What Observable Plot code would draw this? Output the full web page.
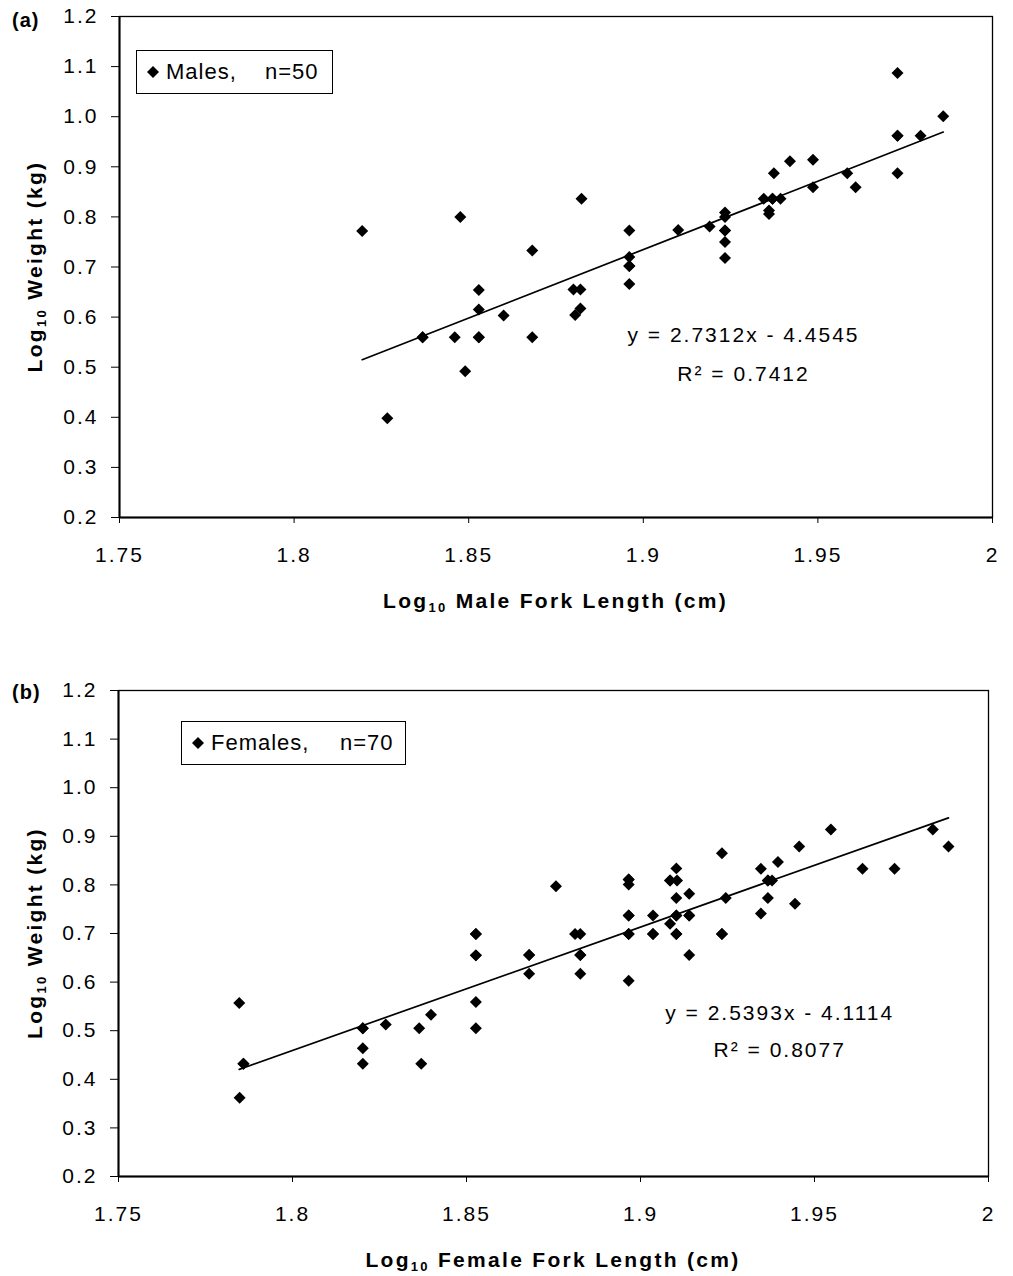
<!DOCTYPE html>
<html><head><meta charset="utf-8">
<script src="https://cdn.jsdelivr.net/npm/d3@7"></script>
<script src="https://cdn.jsdelivr.net/npm/@observablehq/plot@0.6"></script>
<style>
body{margin:0;background:#fff;font-family:"Liberation Sans",Arial,sans-serif;}
.panel{position:relative;width:1013px;}
.legend{position:absolute;box-sizing:border-box;border:1.5px solid #000;background:#fff;display:flex;align-items:center;padding-left:10px;font-size:22px;letter-spacing:1px;color:#000;white-space:pre;}
.legend svg{display:block;margin-right:7px;}
</style></head><body><div id="root"></div>
<script>
// ---------- data ----------
const xTicks = [1.75, 1.8, 1.85, 1.9, 1.95, 2];
const xTickLabels = ["1.75", "1.8", "1.85", "1.9", "1.95", "2"];
const yTicks = [0.2, 0.3, 0.4, 0.5, 0.6, 0.7, 0.8, 0.9, 1.0, 1.1, 1.2];
const yTickLabels = ["0.2", "0.3", "0.4", "0.5", "0.6", "0.7", "0.8", "0.9", "1.0", "1.1", "1.2"];

const maleLength = [1.8195, 1.8267, 1.8368, 1.8368, 1.8460, 1.8476, 1.8490, 1.8529, 1.8529, 1.8529,
  1.8529, 1.8600, 1.8682, 1.8682, 1.8800, 1.8820, 1.8805, 1.8820, 1.8823, 1.8960,
  1.8960, 1.8960, 1.8960, 1.8960, 1.9100, 1.9190, 1.9234, 1.9234, 1.9234, 1.9234,
  1.9234, 1.9234, 1.9345, 1.9370, 1.9370, 1.9393, 1.9360, 1.9360, 1.9374, 1.9420,
  1.9486, 1.9486, 1.9584, 1.9608, 1.9728, 1.9728, 1.9728, 1.9728, 1.9794, 1.9859];
const maleWeight = [0.772, 0.398, 0.560, 0.560, 0.560, 0.800, 0.492, 0.654, 0.615, 0.560,
  0.560, 0.603, 0.560, 0.733, 0.655, 0.655, 0.604, 0.617, 0.836, 0.773,
  0.720, 0.702, 0.702, 0.666, 0.774, 0.781, 0.809, 0.800, 0.773, 0.773,
  0.750, 0.718, 0.836, 0.836, 0.836, 0.836, 0.813, 0.806, 0.887, 0.911,
  0.914, 0.859, 0.887, 0.859, 1.087, 0.962, 0.962, 0.887, 0.962, 1.001];

const femaleLength = [1.7847, 1.7859, 1.7848, 1.8202, 1.8202, 1.8202, 1.8268, 1.8364, 1.8370, 1.8398,
  1.8527, 1.8527, 1.8527, 1.8527, 1.8680, 1.8680, 1.8757, 1.8812, 1.8827, 1.8827,
  1.8827, 1.8966, 1.8966, 1.8966, 1.8966, 1.8966, 1.9036, 1.9036, 1.9085, 1.9105,
  1.9103, 1.9103, 1.9103, 1.9103, 1.9085, 1.9140, 1.9140, 1.9140, 1.9234, 1.9245,
  1.9234, 1.9346, 1.9366, 1.9378, 1.9366, 1.9346, 1.9395, 1.9444, 1.9456, 1.9547,
  1.9638, 1.9730, 1.9840, 1.9885, 1.7859, 1.8527, 1.8527, 1.8680, 1.8966, 1.8966,
  1.9036, 1.9103, 1.9103, 1.9085, 1.9366, 1.8202, 1.8827, 1.9234, 1.9140, 1.8966];
const femaleWeight = [0.557, 0.432, 0.362, 0.505, 0.464, 0.432, 0.513, 0.505, 0.432, 0.533,
  0.699, 0.655, 0.559, 0.505, 0.656, 0.617, 0.797, 0.699, 0.699, 0.656,
  0.617, 0.811, 0.801, 0.737, 0.699, 0.603, 0.737, 0.699, 0.809, 0.809,
  0.834, 0.773, 0.737, 0.699, 0.720, 0.782, 0.737, 0.656, 0.865, 0.773,
  0.699, 0.833, 0.809, 0.809, 0.773, 0.741, 0.847, 0.761, 0.879, 0.914,
  0.833, 0.833, 0.914, 0.879, 0.432, 0.699, 0.655, 0.656, 0.699, 0.737,
  0.699, 0.699, 0.737, 0.809, 0.809, 0.505, 0.656, 0.699, 0.737, 0.811];

const fitSlopes = [2.7312, 2.5393];
const fitIntercepts = [-4.4545, -4.1114];
const equationLabels = ["y = 2.7312x - 4.4545", "y = 2.5393x - 4.1114"];
const r2Labels = ["R\u00B2 = 0.7412", "R\u00B2 = 0.8077"];
const panelTags = ["(a)", "(b)"];
const legendNames = ["Males,", "Females,"];
const legendCounts = ["n=50", "n=70"];
const xTitleRest = [" Male Fork Length (cm)", " Female Fork Length (cm)"];
const yTitleRest = " Weight (kg)";

// ---------- layout (not data) ----------
const svgHeights = [640, 636];
const marginsTop = [16, 50];
const marginsBottom = [123, 100];
const marginsLeft = [119, 118];
const marginsRight = [21, 25];
const eqX = [1.9287, 1.9400];
const eqY = [0.55, 0.521];
const r2Y = [0.473, 0.445];
const legendBoxes = [
  {left: 136, top: 50, width: 197, height: 44, labelWidth: 99},
  {left: 181, top: 81, width: 225, height: 44, labelWidth: 129}
];
const tagBaselines = [27, 59];

const lengths = [maleLength, femaleLength];
const weights = [maleWeight, femaleWeight];
const root = document.getElementById("root");

[0, 1].forEach(i => {
  const points = lengths[i].map((x, j) => ({x, y: weights[i][j]}));
  const fit = d3.extent(lengths[i]).map(x => ({x, y: fitSlopes[i] * x + fitIntercepts[i]}));
  const H = svgHeights[i];
  const plot = Plot.plot({
    width: 1013,
    height: H,
    marginTop: marginsTop[i],
    marginBottom: marginsBottom[i],
    marginLeft: marginsLeft[i],
    marginRight: marginsRight[i],
    style: "font-family:'Liberation Sans',Arial,sans-serif;font-size:21px;letter-spacing:2px;color:#000;background:#fff;overflow:visible;",
    x: {domain: [1.75, 2], ticks: xTicks, tickFormat: d => xTickLabels[xTicks.indexOf(d)], tickSize: 6, tickPadding: 24, label: null},
    y: {domain: [0.2, 1.2], ticks: yTicks, tickFormat: d => yTickLabels[yTicks.indexOf(d)], tickSize: 8, tickPadding: 13, label: null},
    marks: [
      Plot.frame({stroke: "#000", strokeWidth: 1.3}),
      Plot.ruleX([1.75], {stroke: "#000", strokeWidth: 2}),
      Plot.ruleY([0.2], {stroke: "#000", strokeWidth: 2}),
      Plot.line(fit, {x: "x", y: "y", stroke: "#000", strokeWidth: 1.7}),
      Plot.dot(points, {x: "x", y: "y", symbol: "diamond2", r: 5.4, fill: "#000", stroke: null}),
      Plot.text([{x: eqX[i], y: eqY[i], t: equationLabels[i]}], {x: "x", y: "y", text: "t", fontSize: 21, textAnchor: "middle", lineAnchor: "bottom", fill: "#000"}),
      Plot.text([{x: eqX[i], y: r2Y[i], t: r2Labels[i]}], {x: "x", y: "y", text: "t", fontSize: 21, textAnchor: "middle", lineAnchor: "bottom", fill: "#000"})
    ]
  });

  const xr = plot.scale("x").range;
  const yr = plot.scale("y").range;
  const svg = d3.select(plot);

  const xt = svg.append("text")
    .attr("x", (xr[0] + xr[1]) / 2)
    .attr("y", Math.max(yr[0], yr[1]) + 91)
    .attr("text-anchor", "middle")
    .attr("font-weight", "bold")
    .attr("font-size", 21)
    .style("letter-spacing", "2.3px")
    .attr("fill", "#000");
  xt.append("tspan").text("Log");
  xt.append("tspan").attr("font-size", 13).attr("dy", 4).text("10");
  xt.append("tspan").attr("dy", -4).text(xTitleRest[i]);

  const yc = (yr[0] + yr[1]) / 2;
  const yt = svg.append("text")
    .attr("transform", `translate(42,${yc}) rotate(-90)`)
    .attr("text-anchor", "middle")
    .attr("font-weight", "bold")
    .attr("font-size", 21)
    .style("letter-spacing", "2.3px")
    .attr("fill", "#000");
  yt.append("tspan").text("Log");
  yt.append("tspan").attr("font-size", 13).attr("dy", 4).text("10");
  yt.append("tspan").attr("dy", -4).text(yTitleRest);

  svg.append("text")
    .attr("x", 12)
    .attr("y", tagBaselines[i])
    .attr("text-anchor", "start")
    .attr("font-weight", "bold")
    .attr("font-size", 20)
    .style("letter-spacing", "1px")
    .attr("fill", "#000")
    .text(panelTags[i]);

  const wrap = document.createElement("div");
  wrap.className = "panel";
  wrap.style.height = H + "px";
  wrap.appendChild(plot);

  const lb = legendBoxes[i];
  const leg = document.createElement("div");
  leg.className = "legend";
  Object.assign(leg.style, {left: lb.left + "px", top: lb.top + "px", width: lb.width + "px", height: lb.height + "px"});
  leg.innerHTML = `<svg width="12" height="12" viewBox="0 0 12 12"><path d="M6 0L12 6L6 12L0 6Z" fill="#000"/></svg>` +
    `<span style="display:inline-block;width:${lb.labelWidth}px">${legendNames[i]}</span><span>${legendCounts[i]}</span>`;
  wrap.appendChild(leg);
  root.appendChild(wrap);
});
</script>
</body></html>
